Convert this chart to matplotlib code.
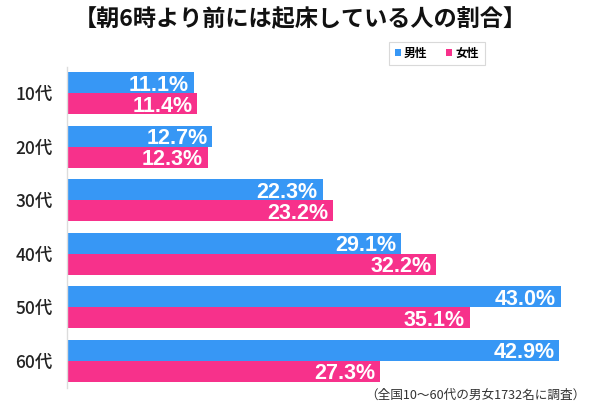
import matplotlib
matplotlib.use("Agg")
import matplotlib.pyplot as plt
from matplotlib.patches import Patch

plt.rcParams['font.family'] = ['Noto Sans CJK JP', 'DejaVu Sans']

categories = ['10代', '20代', '30代', '40代', '50代', '60代']
male = [11.1, 12.7, 22.3, 29.1, 43.0, 42.9]
female = [11.4, 12.3, 23.2, 32.2, 35.1, 27.3]
series_names = ['男性', '女性']
title = '【朝6時より前には起床している人の割合】'
note = '（全国10～60代の男女1732名に調査）'

blue = '#3797f5'
pink = '#f7318b'

fig = plt.figure(figsize=(6, 4.12), dpi=100)
ax = fig.add_axes([66.5/600, 24.5/412, 517/600, 321/412])

h = 0.393
ys = list(range(len(categories)))
ax.barh([y - h/2 for y in ys], male, height=h, color=blue, edgecolor='none')
ax.barh([y + h/2 for y in ys], female, height=h, color=pink, edgecolor='none')

lab_font = dict(family=['Liberation Sans', 'DejaVu Sans'], fontsize=15.5,
                fontweight='bold', color='white')
for y, v in zip(ys, male):
    ax.annotate(f'{v:.1f}%', xy=(v, y - h/2), xytext=(-3.5, 0),
                textcoords='offset points', ha='right', va='center_baseline', **lab_font)
for y, v in zip(ys, female):
    ax.annotate(f'{v:.1f}%', xy=(v, y + h/2), xytext=(-3.5, 0),
                textcoords='offset points', ha='right', va='center_baseline', **lab_font)

ax.set_xlim(0, 45)
ax.set_ylim(5.5, -0.5)
ax.set_yticks(ys)
ax.set_yticklabels(categories, fontsize=12.5, fontweight='medium', color='#222222')
ax.tick_params(axis='y', length=0, pad=10)
ax.set_xticks([])
for s in ['top', 'right', 'bottom']:
    ax.spines[s].set_visible(False)
ax.spines['left'].set_color('#dcdcdc')
ax.spines['left'].set_linewidth(1)

fig.text(0.5, 1 - 20/412, title, ha='center', va='center', fontsize=16.7,
         fontweight='bold', color='#111111')

handles = [Patch(facecolor=blue, edgecolor='none'), Patch(facecolor=pink, edgecolor='none')]
leg = fig.legend(handles, series_names, loc='center', bbox_to_anchor=(437/600, 1 - 53.5/412),
                 ncol=2, fontsize=8.5, frameon=True, fancybox=False, edgecolor='#d0d0d0',
                 handlelength=0.5, handleheight=0.5, handletextpad=0.3, columnspacing=1.6,
                 borderpad=0.45, prop={'weight': 'bold', 'size': 8.5})
leg.get_frame().set_linewidth(0.8)

fig.text(585/600, 1 - 395/412, note, ha='right', va='center', fontsize=9.1, color='#333333')

fig.savefig('out.png', dpi=100)
